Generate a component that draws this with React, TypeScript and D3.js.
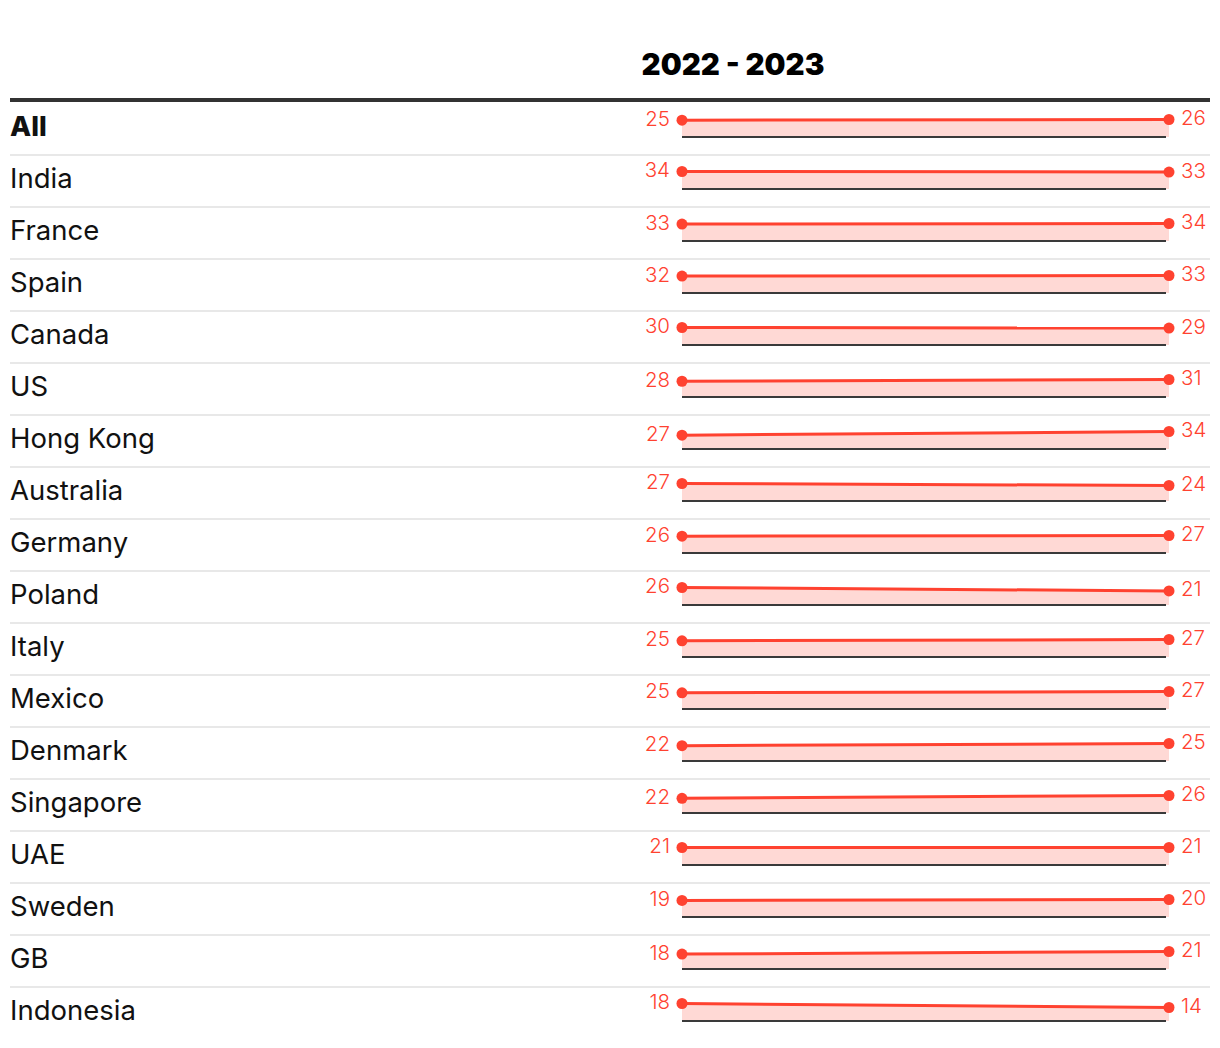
import * as d3 from 'd3';

const countries = ['All', 'India', 'France', 'Spain', 'Canada', 'US', 'Hong Kong', 'Australia', 'Germany', 'Poland', 'Italy', 'Mexico', 'Denmark', 'Singapore', 'UAE', 'Sweden', 'GB', 'Indonesia'];
const years = ['2022', '2023'];
const values2022 = [25, 34, 33, 32, 30, 28, 27, 27, 26, 26, 25, 25, 22, 22, 21, 19, 18, 18];
const values2023 = [26, 33, 34, 33, 29, 31, 34, 24, 27, 21, 27, 27, 25, 26, 21, 20, 21, 14];

const W = 1220;
const H = 1048;
const RED = '#ff4230';
const PINK = '#ffd9d5';
const FONT = 'Inter, "Noto Sans", sans-serif';

export default function App() {
  const left = 10;
  const right = 1210;
  const topY = 102;
  const rowH = 52;

  const x = d3.scalePoint<string>().domain(years).range([682, 1169]);
  const yBand = d3.scaleBand<number>().domain(d3.range(countries.length)).range([topY, topY + rowH * countries.length]);

  return (
    <svg width={W} height={H} style={{ position: 'absolute', left: 0, top: 0, background: '#fff' }}>
      <text x={733} y={75} textAnchor="middle" fontFamily={FONT} fontWeight={900} fontSize={29.5} fill="#000">
        2022 - 2023
      </text>
      <line x1={left} x2={right} y1={100} y2={100} stroke="#333" strokeWidth={4} />
      {countries.map((c, i) => {
        const top = yBand(i)!;
        const vals = [values2022[i], values2023[i]];
        const maxV = d3.max(vals)!;
        const y = d3.scaleLinear().domain([0, maxV]).range([top + 35.5, top + 17.5]);
        const pts = years.map((yr, j) => ({ yr, v: vals[j] }));
        const area = d3.area<{ yr: string; v: number }>()
          .x(d => x(d.yr)!)
          .y0(top + 35)
          .y1(d => y(d.v));
        const line = d3.line<{ yr: string; v: number }>()
          .x(d => x(d.yr)!)
          .y(d => y(d.v));
        return (
          <g key={c}>
            <text x={left} y={top + 34} fontFamily={FONT} fontSize={27.5} fontWeight={c === 'All' ? 800 : 400} fill="#111">
              {c}
            </text>
            {i < countries.length - 1 && (
              <line x1={left} x2={right} y1={top + rowH + 1} y2={top + rowH + 1} stroke="#e8e8e8" strokeWidth={2} />
            )}
            <path d={area(pts)!} fill={PINK} />
            <line x1={x('2022')!} x2={x('2023')! - 3} y1={top + 35} y2={top + 35} stroke="#3a3a3a" strokeWidth={2} />
            <path d={line(pts)!} fill="none" stroke={RED} strokeWidth={3} />
            {pts.map(p => (
              <circle key={p.yr} cx={x(p.yr)!} cy={y(p.v)} r={5.5} fill={RED} />
            ))}
            <text x={x('2022')! - 12} y={y(vals[0]) - 2} textAnchor="end" dominantBaseline="central" fontFamily={FONT} fontSize={20.5} fontWeight={300} fill={RED}>
              {vals[0]}
            </text>
            <text x={x('2023')! + 12} y={y(vals[1]) - 2} textAnchor="start" dominantBaseline="central" fontFamily={FONT} fontSize={20.5} fontWeight={300} fill={RED}>
              {vals[1]}
            </text>
          </g>
        );
      })}
    </svg>
  );
}
